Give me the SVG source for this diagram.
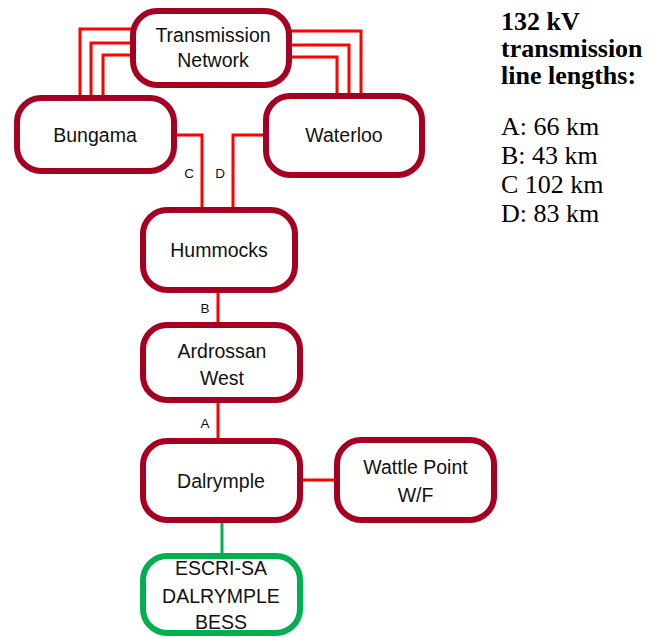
<svg xmlns="http://www.w3.org/2000/svg" width="658" height="638" viewBox="0 0 658 638">
<style>
.node{fill:#fff;stroke:#A50021;stroke-width:6}
.bess{fill:#fff;stroke:#00B050;stroke-width:6}
.red{fill:none;stroke:#FF0000;stroke-width:3}
.grn{fill:none;stroke:#00B050;stroke-width:3}
.t{font-family:"Liberation Sans",Arial,sans-serif;font-size:19.5px;fill:#111;text-anchor:middle}
.lbl{font-family:"Liberation Sans",Arial,sans-serif;font-size:13.5px;fill:#111;text-anchor:middle}
.hb{font-family:"Liberation Serif","Times New Roman",serif;font-size:26px;font-weight:bold;fill:#000}
.hr{font-family:"Liberation Serif","Times New Roman",serif;font-size:26px;fill:#000}
</style>
<rect width="658" height="638" fill="#fff"/>
<g id="connectors">
<polyline class="red" points="132,29 80,29 80,97"/>
<polyline class="red" points="132,43 91,43 91,97"/>
<polyline class="red" points="132,55 103,55 103,97"/>
<polyline class="red" points="290,31 361,31 361,95"/>
<polyline class="red" points="290,45 349,45 349,95"/>
<polyline class="red" points="290,57 337,57 337,95"/>
<polyline class="red" points="176,135 202,135 202,209"/>
<polyline class="red" points="264,135 233,135 233,209"/>
<line class="red" x1="218" y1="292" x2="218" y2="324"/>
<line class="red" x1="218" y1="402" x2="218" y2="440"/>
<line class="red" x1="302" y1="480" x2="336" y2="480"/>
<line class="grn" x1="222" y1="522" x2="222" y2="555"/>
<text class="lbl" x="189" y="178">C</text>
<text class="lbl" x="220" y="178">D</text>
<text class="lbl" x="205" y="313">B</text>
<text class="lbl" x="205" y="428">A</text>
</g>
<g id="transmission-network">
<rect class="node" x="133" y="11" width="156" height="74" rx="24"/>
<text class="t" x="213" y="42">Transmission</text>
<text class="t" x="213" y="67">Network</text>
</g>
<g id="bungama">
<rect class="node" x="17" y="98" width="157" height="73" rx="24"/>
<text class="t" x="95" y="142">Bungama</text>
</g>
<g id="waterloo">
<rect class="node" x="266" y="96" width="156" height="79" rx="24"/>
<text class="t" x="344" y="142">Waterloo</text>
</g>
<g id="hummocks">
<rect class="node" x="143" y="210" width="152" height="80" rx="24"/>
<text class="t" x="219" y="257">Hummocks</text>
</g>
<g id="ardrossan-west">
<rect class="node" x="143" y="325" width="157" height="75" rx="24"/>
<text class="t" x="222" y="358">Ardrossan</text>
<text class="t" x="222" y="385">West</text>
</g>
<g id="dalrymple">
<rect class="node" x="143" y="441" width="157" height="79" rx="24"/>
<text class="t" x="221" y="488">Dalrymple</text>
</g>
<g id="wattle-point">
<rect class="node" x="337" y="440" width="157" height="80" rx="24"/>
<text class="t" x="415.5" y="474">Wattle Point</text>
<text class="t" x="415.5" y="502">W/F</text>
</g>
<g id="escri-bess">
<rect class="bess" x="143" y="556" width="157" height="77" rx="24"/>
<text class="t" x="221" y="575">ESCRI-SA</text>
<text class="t" x="221" y="603">DALRYMPLE</text>
<text class="t" x="221" y="629">BESS</text>
</g>
<g id="legend">
<text class="hb" x="501" y="30">132 kV</text>
<text class="hb" x="501" y="57">transmission</text>
<text class="hb" x="501" y="84">line lengths:</text>
<text class="hr" x="501" y="135">A: 66 km</text>
<text class="hr" x="501" y="164">B: 43 km</text>
<text class="hr" x="501" y="193">C 102 km</text>
<text class="hr" x="501" y="222">D: 83 km</text>
</g>
</svg>
